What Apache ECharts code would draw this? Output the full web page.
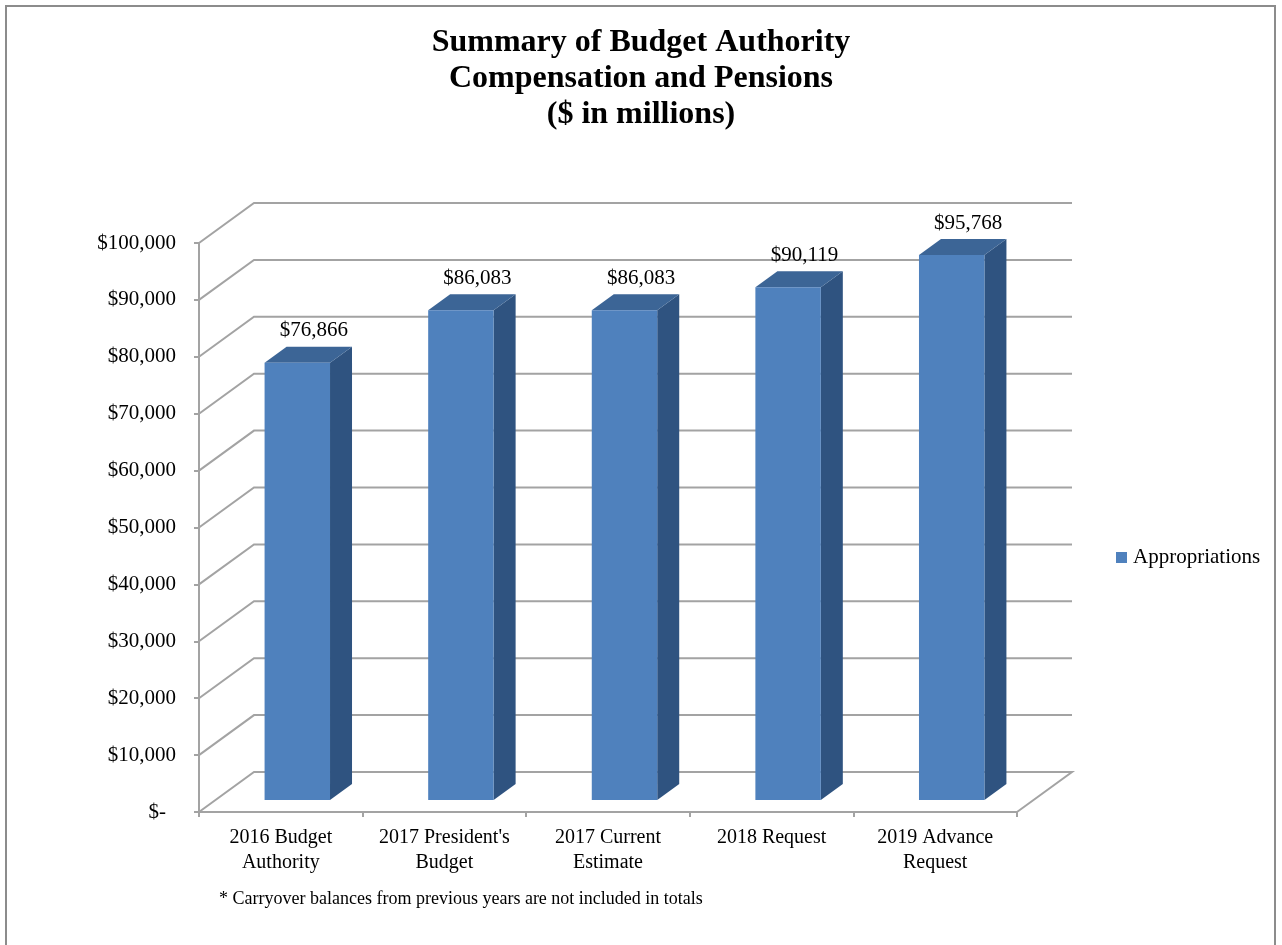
<!DOCTYPE html>
<html>
<head>
<meta charset="utf-8">
<script src="https://cdn.jsdelivr.net/npm/echarts@6/dist/echarts.min.js"></script>
<style>
  html, body { margin: 0; padding: 0; background: #ffffff; }
  #chart { width: 1282px; height: 945px; }
</style>
</head>
<body>
<div id="chart"></div>
<script>
const categories = ['2016 Budget\nAuthority', "2017 President's\nBudget", '2017 Current\nEstimate', '2018 Request', '2019 Advance\nRequest'];
const values = [76866, 86083, 86083, 90119, 95768];
const yTicks = [0, 10000, 20000, 30000, 40000, 50000, 60000, 70000, 80000, 90000, 100000];
const seriesName = 'Appropriations';
const titleLines = ['Summary of Budget Authority', 'Compensation and Pensions', '($ in millions)'];
const footnote = '* Carryover balances from previous years are not included in totals';

const FONT = '"Liberation Serif", "Times New Roman", serif';
const DX = 55, DY = 40;           // depth offset of the 3D box
const D0 = 0.3, D1 = 0.7;          // bar depth range (fraction)
const BAR_FRAC = 0.4;              // bar width as fraction of band
const GRID_COLOR = '#a3a3a3';
const FRONT = '#4F81BD', TOP = '#3C6596', SIDE = '#2F5380';

function fmt(v) { return '$' + v.toLocaleString('en-US'); }

const chart = echarts.init(document.getElementById('chart'), null, { renderer: 'canvas' });

const titleGraphics = titleLines.map(function (line, i) {
  return {
    type: 'text', silent: true,
    style: {
      text: line, x: 641, y: 43 + i * 36, align: 'center', verticalAlign: 'middle',
      fontFamily: FONT, fontSize: 32, fontWeight: 'bold', fill: '#000'
    }
  };
});

const option = {
  backgroundColor: '#ffffff',
  animation: false,
  legend: {
    data: [seriesName],
    left: 1116,
    top: 547,
    padding: 0,
    icon: 'rect',
    itemWidth: 11,
    itemHeight: 11,
    itemGap: 6,
    textStyle: { fontFamily: FONT, fontSize: 21, color: '#000', padding: [0, 0, 0, 1] }
  },
  grid: { left: 199, right: 265, top: 243, bottom: 133, containLabel: false },
  xAxis: {
    type: 'category',
    data: categories,
    axisLine: { show: true, lineStyle: { color: GRID_COLOR, width: 2 } },
    axisTick: { show: true, length: 5, lineStyle: { color: GRID_COLOR, width: 2 } },
    axisLabel: { fontFamily: FONT, fontSize: 20, color: '#000', lineHeight: 25, margin: 13, interval: 0 },
    splitLine: { show: false }
  },
  yAxis: {
    type: 'value',
    min: 0,
    max: 100000,
    interval: 10000,
    axisLine: { show: true, lineStyle: { color: GRID_COLOR, width: 2 } },
    axisTick: { show: true, length: 5, lineStyle: { color: GRID_COLOR, width: 2 } },
    splitLine: { show: false },
    axisLabel: {
      fontFamily: FONT, fontSize: 21, color: '#000', margin: 23,
      formatter: function (v) { return v === 0 ? '{z|$-}' : fmt(v); },
      rich: { z: { fontFamily: FONT, fontSize: 21, color: '#000', padding: [0, 10, 0, 0] } }
    }
  },
  graphic: titleGraphics.concat([
    {
      type: 'rect', z: 100, silent: true,
      shape: { x: 6, y: 6, width: 1269, height: 960 },
      style: { fill: 'none', stroke: '#8c8c8c', lineWidth: 2 }
    },
    {
      type: 'text', silent: true,
      style: { text: footnote, x: 219, y: 899, verticalAlign: 'middle', fontFamily: FONT, fontSize: 18, fill: '#000' }
    }
  ]),
  series: [
    {
      name: 'walls',
      type: 'custom',
      clip: false,
      silent: true,
      z: 1,
      data: yTicks.map(function (t) { return [0, t]; }),
      encode: { x: 0, y: 1 },
      renderItem: function (params, api) {
        const cs = params.coordSys;
        const x0 = cs.x, x1 = cs.x + cs.width;
        const y = api.coord([0, api.value(1)])[1];
        const pts = [[x0, y], [x0 + DX, y - DY], [x1 + DX, y - DY]];
        if (api.value(1) === 0) pts.push([x1, y]);
        return {
          type: 'polyline',
          shape: { points: pts },
          style: { stroke: GRID_COLOR, lineWidth: 2, fill: 'none' }
        };
      }
    },
    {
      name: seriesName,
      type: 'custom',
      clip: false,
      z: 2,
      itemStyle: { color: FRONT },
      data: values.map(function (v, i) { return [i, v]; }),
      encode: { x: 0, y: 1 },
      renderItem: function (params, api) {
        const idx = api.value(0), v = api.value(1);
        const top = api.coord([idx, v]);
        const base = api.coord([idx, 0])[1];
        const half = api.size([1, 0])[0] * BAR_FRAC / 2;
        const cx = top[0], yt = top[1];
        const lx0 = cx - half + DX * D0, rx0 = cx + half + DX * D0;
        const lx1 = cx - half + DX * D1, rx1 = cx + half + DX * D1;
        const yt0 = yt - DY * D0, yt1 = yt - DY * D1;
        const yb0 = base - DY * D0, yb1 = base - DY * D1;
        return {
          type: 'group',
          children: [
            { type: 'polygon', shape: { points: [[rx0, yt0], [rx1, yt1], [rx1, yb1], [rx0, yb0]] }, style: { fill: SIDE } },
            { type: 'polygon', shape: { points: [[lx0, yt0], [rx0, yt0], [rx1, yt1], [lx1, yt1]] }, style: { fill: TOP } },
            { type: 'rect', shape: { x: lx0, y: yt0, width: rx0 - lx0, height: yb0 - yt0 }, style: { fill: FRONT } },
            {
              type: 'text',
              style: {
                text: fmt(v), x: cx + DX * 0.6, y: yt1 - 16,
                align: 'center', verticalAlign: 'middle',
                fontFamily: FONT, fontSize: 21, fill: '#000'
              }
            }
          ]
        };
      }
    }
  ]
};

chart.setOption(option);
</script>
</body>
</html>
